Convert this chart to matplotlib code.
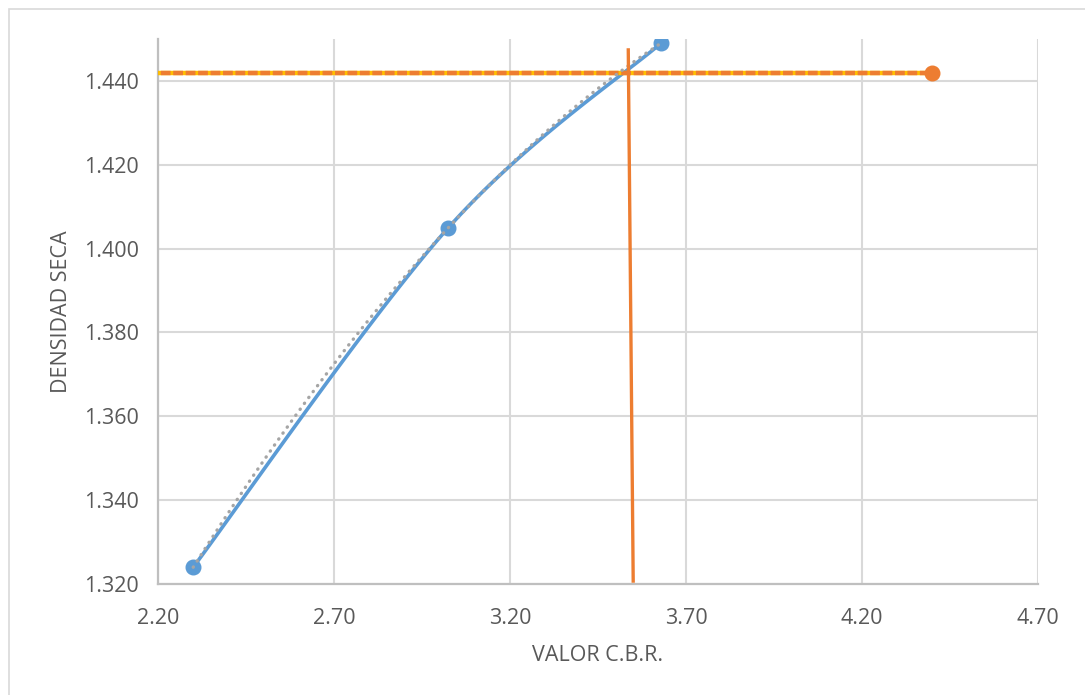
import numpy as np
import matplotlib.pyplot as plt
from matplotlib.patches import Rectangle

plt.rcParams['font.family'] = ['Open Sans', 'DejaVu Sans']

# ensayo CBR: densidad seca vs valor CBR
cbr = [2.30, 3.025, 3.629]
densidad = [1.324, 1.405, 1.449]

# densidad de referencia (linea horizontal)
ref_x = [0.0, 4.40]
ref_y = [1.442, 1.442]

# lectura del CBR (linea vertical)
lect_x = [3.550, 3.536]
lect_y = [1.3207, 1.4474]

x_ticks = [2.20, 2.70, 3.20, 3.70, 4.20, 4.70]
y_ticks = [1.320, 1.340, 1.360, 1.380, 1.400, 1.420, 1.440]

BLUE = '#5B9BD5'
ORANGE = '#ED7D31'
YELLOW = '#FFC000'
GREY = '#A5A5A5'
TXT = '#595959'


def smooth(xs, ys, n=60):
    # curva suavizada tipo Excel (Bezier con puntos de control Catmull-Rom)
    p = np.column_stack([xs, ys])
    p = np.vstack([p[0], p, p[-1]])
    out = []
    t = np.linspace(0, 1, n)[:, None]
    for i in range(1, len(p) - 2):
        p0, p1, p2, p3 = p[i - 1], p[i], p[i + 1], p[i + 2]
        c1 = p1 + (p2 - p0) / 6
        c2 = p2 - (p3 - p1) / 6
        seg = ((1 - t) ** 3) * p1 + 3 * ((1 - t) ** 2) * t * c1 + 3 * (1 - t) * t ** 2 * c2 + t ** 3 * p2
        out.append(seg)
    out = np.vstack(out)
    return out[:, 0], out[:, 1]


fig = plt.figure(figsize=(10.85, 6.95), dpi=100)
fig.patches.append(Rectangle((9 / 1085, -0.1), 1.2, 1.1 - 9 / 695, transform=fig.transFigure,
                             fill=False, edgecolor='#D9D9D9', linewidth=1.2))
ax = fig.add_axes([158 / 1085, 111 / 695, 880 / 1085, 545 / 695])

ax.set_xlim(2.20, 4.70)
ax.set_ylim(1.320, 1.450)
ax.set_xticks(x_ticks)
ax.set_yticks(y_ticks)
ax.set_xticklabels([f'{v:.2f}' for v in x_ticks])
ax.set_yticklabels([f'{v:.3f}' for v in y_ticks])
ax.tick_params(length=0, labelsize=15.5, labelcolor=TXT)
ax.tick_params(axis='x', pad=17)
ax.tick_params(axis='y', pad=14)
ax.grid(True, color='#D9D9D9', linewidth=1.5)
ax.set_axisbelow(True)
for s in ['top', 'right']:
    ax.spines[s].set_visible(False)
for s in ['left', 'bottom']:
    ax.spines[s].set_color('#BFBFBF')
    ax.spines[s].set_linewidth(1.6)

# curva del ensayo
sx, sy = smooth(cbr, densidad)
ax.plot(sx, sy, color=BLUE, linewidth=2.6, solid_capstyle='round', zorder=3)
ax.plot(cbr, densidad, linestyle='none', marker='o', markersize=10.5,
        color=BLUE, zorder=4)

# linea de tendencia polinomica (grado 2)
coef = np.polyfit(cbr, densidad, 2)
tx = np.linspace(cbr[0], cbr[-1], 200)
ax.plot(tx, np.polyval(coef, tx), color=GREY, linewidth=2.4,
        linestyle=(0, (0.1, 2.1)), dash_capstyle='round', zorder=5)

# densidad de referencia
ax.plot(ref_x, ref_y, color=YELLOW, linewidth=3.2, zorder=3)
ax.plot(ref_x, ref_y, color=ORANGE, linewidth=3.2, linestyle=(0, (2.2, 0.6)),
        marker='o', markersize=10.5, markevery=[1], zorder=3)

# lectura del CBR
ax.plot(lect_x, lect_y, color=ORANGE, linewidth=2.4, zorder=6)

ax.set_xlabel('VALOR C.B.R.', fontsize=15.5, color=TXT, labelpad=12)
ax.set_ylabel('DENSIDAD SECA', fontsize=15.5, color=TXT, labelpad=8)

fig.savefig('out.png', dpi=100)
